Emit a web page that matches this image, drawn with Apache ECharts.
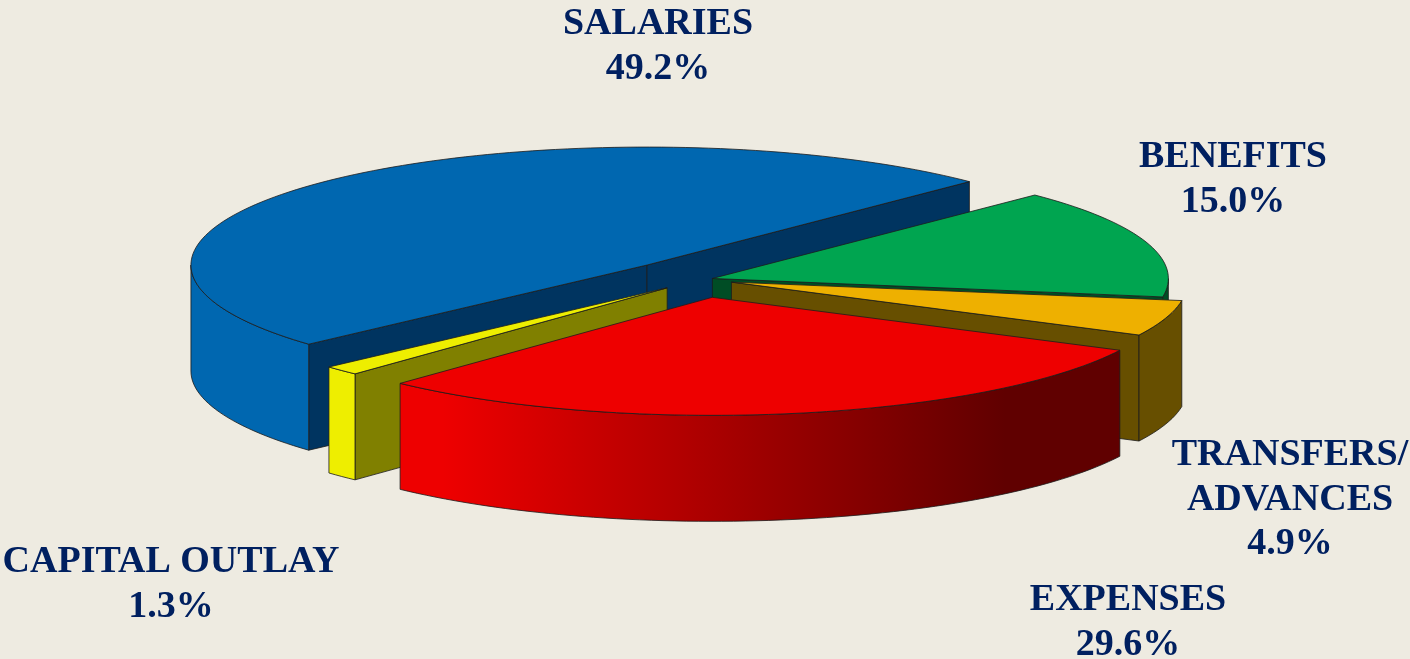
<!DOCTYPE html>
<html>
<head>
<meta charset="utf-8">
<style>
  html, body { margin: 0; padding: 0; background: #eeebe1; }
  #myChart { width: 1410px; height: 659px; }
</style>
</head>
<body>
<div id="myChart"></div>
<script src="https://cdn.jsdelivr.net/npm/echarts@6/dist/echarts.min.js"></script>
<script>
// clockwise from the top-right edge of salaries
const categories = ['BENEFITS', 'TRANSFERS/\nADVANCES', 'EXPENSES', 'CAPITAL OUTLAY', 'SALARIES'];
const shares = [15.0, 4.9, 29.6, 1.3, 49.2];

// pie geometry
const cx = 700, cy = 279.5, rx = 456, ry = 118, depth = 106;
const startDeg = -45;
// how far each slice is pulled out of the pie
const explode = [13, 33, 70, 46, 77];
// painter order, back to front
const paintOrder = [4, 0, 1, 3, 2];

const topColors = ['#00a550', '#eeb000', '#ee0000', '#eeee00', '#0067b0'];
const faceColors = ['#004d25', '#674f00', '#600000', '#808000', '#003460'];
const wallColors = [
  '#004d25',
  '#674f00',
  {
    type: 'linear', x: 400, y: 0, x2: 1120, y2: 0, global: true,
    colorStops: [
      { offset: 0, color: '#ee0000' },
      { offset: 0.06, color: '#ee0000' },
      { offset: 0.84, color: '#600000' },
      { offset: 1, color: '#600000' }
    ]
  },
  '#eeee00',
  '#0067b0'
];
const edge = { stroke: '#1c1c1c', lineWidth: 0.8 };

const labelStyle = { fill: '#002060', font: 'bold 38px "Liberation Serif"', lineHeight: 44.5 };
const labelPos = [[1233, 135], [1290, 433], [1128, 578], [171, 540], [658, 2]];

const total = shares.reduce((a, b) => a + b, 0);
const rad = (d) => d * Math.PI / 180;

function angleRange(i) {
  let sum = 0;
  for (let k = 0; k < i; k++) sum += shares[k];
  const a0 = startDeg + sum / total * 360;
  return [a0, a0 + shares[i] / total * 360];
}

function rim(ox, oy, deg) {
  return [ox + rx * Math.cos(rad(deg)), oy + ry * Math.sin(rad(deg))];
}

function arcPoints(ox, oy, a0, a1) {
  let pts = [];
  let n = Math.max(2, Math.ceil((a1 - a0) / 1.5));
  for (let k = 0; k <= n; k++) pts.push(rim(ox, oy, a0 + (a1 - a0) * k / n));
  return pts;
}

function poly(points, fill, z2) {
  return { type: 'polygon', z2: z2, shape: { points: points }, style: Object.assign({ fill: fill }, edge) };
}

function radialFace(ox, oy, deg, fill, z2) {
  let p = rim(ox, oy, deg);
  return poly([[ox, oy], p, [p[0], p[1] + depth], [ox, oy + depth]], fill, z2);
}

function renderSlice(params, api) {
  let i = params.dataIndex;
  let range = angleRange(i);
  let a0 = range[0], a1 = range[1];
  let mid = rad((a0 + a1) / 2);
  let ox = cx + explode[i] * Math.cos(mid);
  let oy = cy + explode[i] * Math.sin(mid) * ry / rx;
  let z = paintOrder.indexOf(i) * 10;
  let children = [];

  // the two cut faces, only when they look at the viewer
  if (Math.sin(rad(a0 - 90)) > 0) children.push(radialFace(ox, oy, a0, faceColors[i], z + 1));
  if (Math.sin(rad(a1 + 90)) > 0) children.push(radialFace(ox, oy, a1, faceColors[i], z + 1));

  // outer wall, front half of the ellipse
  let w0 = Math.max(a0, 0), w1 = Math.min(a1, 180);
  if (w1 > w0) {
    let up = arcPoints(ox, oy, w0, w1);
    let down = up.slice().reverse().map((p) => [p[0], p[1] + depth]);
    children.push(poly(up.concat(down), wallColors[i], z + 2));
  }

  // top
  children.push(poly([[ox, oy]].concat(arcPoints(ox, oy, a0, a1)), topColors[i], z + 3));

  // label
  children.push({
    type: 'text',
    z2: 100,
    style: Object.assign({
      text: categories[i] + '\n' + api.value(0).toFixed(1) + '%',
      x: labelPos[i][0],
      y: labelPos[i][1],
      align: 'center',
      verticalAlign: 'top'
    }, labelStyle)
  });

  return { type: 'group', children: children };
}

let myChart = echarts.init(document.getElementById('myChart'), null, { renderer: 'canvas' });
myChart.setOption({
  backgroundColor: '#eeebe1',
  animation: false,
  series: [
    {
      type: 'custom',
      coordinateSystem: 'none',
      silent: true,
      renderItem: renderSlice,
      data: shares.map((v) => [v])
    }
  ]
});
</script>
</body>
</html>
